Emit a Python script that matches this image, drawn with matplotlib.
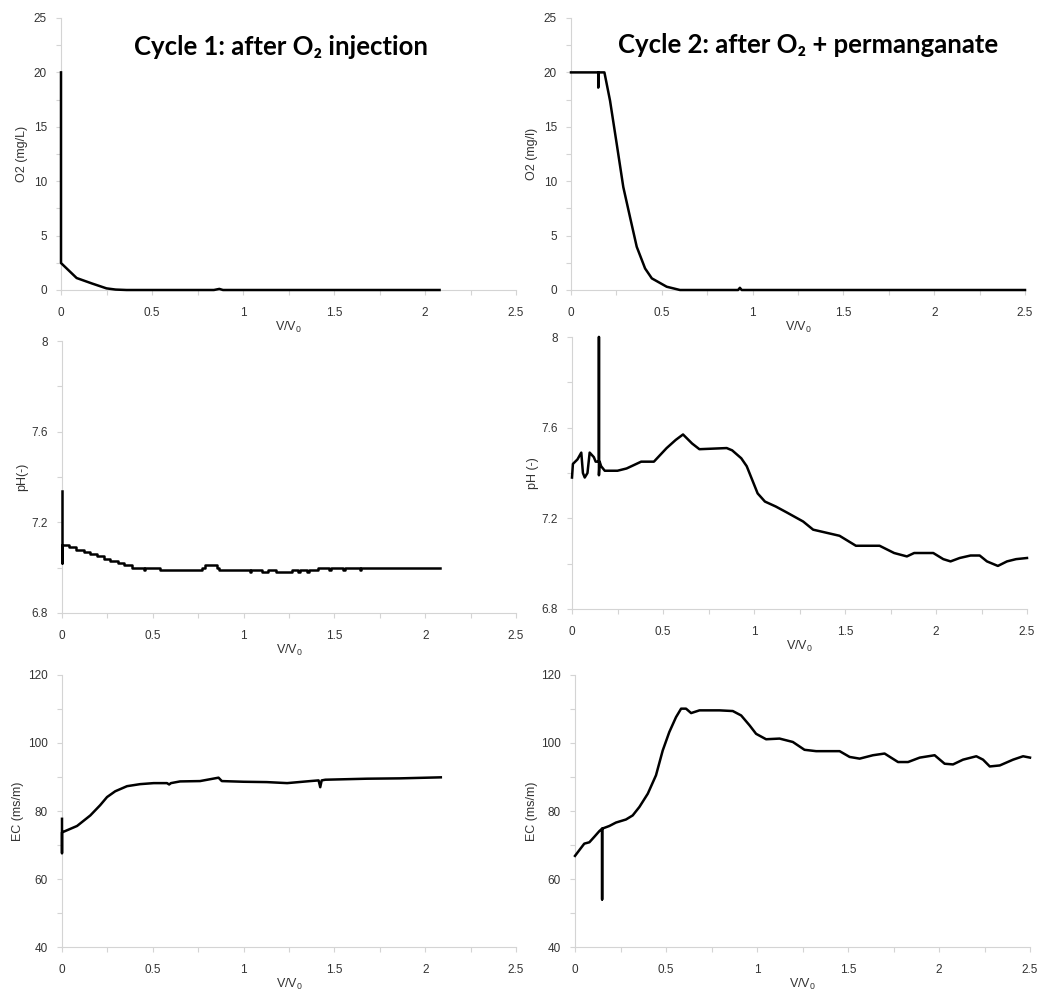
import matplotlib
matplotlib.use("Agg")
import matplotlib.pyplot as plt
from matplotlib.ticker import MultipleLocator

plt.rcParams['font.family'] = ['Liberation Sans', 'DejaVu Sans']
plt.rcParams['mathtext.fontset'] = 'custom'
plt.rcParams['mathtext.rm'] = 'Liberation Sans'
plt.rcParams['mathtext.it'] = 'Liberation Sans'

# Cycle 1 (after O2 injection)
o2_c1_x = [0, 0, 0.086, 0.17, 0.25, 0.30, 0.36, 0.84, 0.87, 0.89, 2.08]
o2_c1_y = [20, 2.48, 1.1, 0.6, 0.15, 0.04, 0.0, 0.0, 0.1, 0.0, 0.0]

ph_c1_x = [0, 0, 0, 0.037, 0.079, 0.119, 0.156, 0.192, 0.229, 0.266, 0.311, 0.339,
           0.385, 0.45, 0.455, 0.54, 0.77, 0.788, 0.852, 0.865, 1.035, 1.04, 1.1,
           1.136, 1.18, 1.264, 1.3, 1.31, 1.35, 1.36, 1.41, 1.47, 1.48, 1.55, 1.56,
           1.64, 1.645, 2.083]
ph_c1_y = [7.34, 7.02, 7.10, 7.09, 7.08, 7.07, 7.06, 7.05, 7.04, 7.03, 7.02, 7.01,
           7.00, 6.99, 7.00, 6.99, 7.00, 7.01, 7.00, 6.99, 6.98, 6.99, 6.98,
           6.99, 6.98, 6.99, 6.98, 6.99, 6.98, 6.99, 7.00, 6.99, 7.00, 6.99, 7.00,
           6.99, 7.00, 7.00]

ec_c1_x = [0, 0, 0, 0.083, 0.156, 0.21, 0.248, 0.293, 0.358, 0.43, 0.505, 0.578, 0.59,
           0.60, 0.65, 0.76, 0.862, 0.88, 1.0, 1.128, 1.24, 1.367, 1.413, 1.422, 1.43,
           1.45, 1.68, 1.86, 2.086]
ec_c1_y = [77.7, 67.6, 73.7, 75.6, 78.7, 81.7, 84.1, 85.8, 87.3, 87.9, 88.2, 88.2, 87.8,
           88.2, 88.7, 88.8, 89.8, 88.8, 88.6, 88.5, 88.2, 88.8, 89.0, 87.0, 89.0,
           89.2, 89.5, 89.6, 89.9]

# Cycle 2 (after O2 + permanganate)
o2_c2_x = [0, 0.15, 0.15, 0.152, 0.184, 0.215, 0.252, 0.288, 0.325, 0.362, 0.408,
           0.445, 0.527, 0.6, 0.92, 0.93, 0.94, 2.5]
o2_c2_y = [20, 20, 18.6, 20, 20, 17.4, 13.4, 9.46, 6.7, 3.97, 1.98,
           1.07, 0.3, 0.0, 0.0, 0.2, 0.0, 0.0]

ph_c2_x = [0, 0.005, 0.03, 0.051, 0.06, 0.07, 0.085, 0.097, 0.12, 0.13, 0.148, 0.148,
           0.148, 0.152, 0.16, 0.18, 0.25, 0.3, 0.38, 0.45, 0.52, 0.57, 0.61, 0.66,
           0.7, 0.85, 0.88, 0.93, 0.96, 0.99, 1.02, 1.06, 1.12, 1.18, 1.27, 1.325,
           1.47, 1.56, 1.69, 1.77, 1.84, 1.88, 1.985, 2.04, 2.08, 2.13, 2.19, 2.24,
           2.28, 2.34, 2.39, 2.44, 2.5]
ph_c2_y = [7.38, 7.44, 7.46, 7.49, 7.40, 7.38, 7.40, 7.49, 7.47, 7.45, 7.45, 8.0,
           7.39, 7.45, 7.43, 7.41, 7.41, 7.42, 7.45, 7.45, 7.51, 7.546, 7.57, 7.53,
           7.505, 7.51, 7.50, 7.465, 7.43, 7.37, 7.31, 7.274, 7.252, 7.226, 7.186, 7.15,
           7.123, 7.079, 7.079, 7.047, 7.032, 7.047, 7.047, 7.02, 7.01, 7.025, 7.036, 7.036,
           7.01, 6.99, 7.01, 7.02, 7.025]

ec_c2_x = [0, 0.024, 0.051, 0.079, 0.106, 0.134, 0.149, 0.149, 0.149, 0.189, 0.225,
           0.28, 0.317, 0.354, 0.4, 0.445, 0.482, 0.518, 0.555, 0.583, 0.61, 0.638,
           0.684, 0.794, 0.867, 0.913, 0.959, 0.995, 1.05, 1.124, 1.197, 1.261, 1.325,
           1.454, 1.509, 1.564, 1.637, 1.701, 1.775, 1.83, 1.894, 1.976, 2.031, 2.077,
           2.132, 2.205, 2.242, 2.279, 2.334, 2.407, 2.462, 2.5]
ec_c2_y = [66.8, 68.5, 70.4, 70.8, 72.4, 74.1, 74.8, 54.0, 74.8, 75.6, 76.6,
           77.5, 78.7, 81.2, 85.1, 90.5, 97.8, 103.2, 107.6, 110.1, 110.1, 108.8,
           109.6, 109.6, 109.4, 108.1, 105.2, 102.7, 101.1, 101.3, 100.3, 98.0, 97.6,
           97.6, 95.9, 95.4, 96.4, 96.9, 94.4, 94.4, 95.7, 96.4, 93.9, 93.7,
           95.1, 96.1, 95.1, 93.1, 93.4, 95.1, 96.1, 95.7]

W, H = 1042, 994
fig = plt.figure(figsize=(W / 100, H / 100), dpi=100)


def px_axes(left, right, top, bottom):
    return fig.add_axes([left / W, 1 - bottom / H, (right - left) / W, (bottom - top) / H])


def style(ax, ylim, ymaj, ymin, ylabel, ylab_x):
    ax.set_xlim(0, 2.5)
    ax.set_ylim(*ylim)
    ax.xaxis.set_major_locator(MultipleLocator(0.5))
    ax.xaxis.set_minor_locator(MultipleLocator(0.25))
    ax.yaxis.set_major_locator(MultipleLocator(ymaj))
    ax.yaxis.set_minor_locator(MultipleLocator(ymin))
    ax.xaxis.set_major_formatter(plt.FuncFormatter(lambda v, p: f"{v:g}"))
    ax.yaxis.set_major_formatter(plt.FuncFormatter(lambda v, p: f"{v:g}"))
    for s in ['top', 'right']:
        ax.spines[s].set_visible(False)
    for s in ['left', 'bottom']:
        ax.spines[s].set_color('#d4d4d4')
        ax.spines[s].set_linewidth(0.8)
    ax.tick_params(which='both', color='#d4d4d4', width=0.8, length=3.6,
                   labelcolor='#333333', labelsize=8.5)
    ax.tick_params(axis='x', which='major', pad=8.5)
    ax.tick_params(axis='y', which='major', pad=6.5)
    ax.set_xlabel('V/V$_0$', fontsize=9, color='#333333', va='top')
    ax.xaxis.set_label_coords(0.5, -0.11)
    ax.set_ylabel(ylabel, fontsize=9, color='#333333')
    ax.yaxis.set_label_coords(ylab_x, 0.5)


lw = 1.8

ax = px_axes(61, 516, 18, 290)
ax.plot(o2_c1_x, o2_c1_y, color='black', lw=lw, clip_on=False, zorder=3)
style(ax, (0, 25), 5, 2.5, 'O2 (mg/L)', -0.073)

ax = px_axes(571, 1025, 18, 290)
ax.plot(o2_c2_x, o2_c2_y, color='black', lw=lw, clip_on=False, zorder=3)
style(ax, (0, 25), 5, 2.5, 'O2 (mg/l)', -0.073)

ax = px_axes(62, 516, 341, 613)
ax.plot(ph_c1_x, ph_c1_y, color='black', lw=lw, drawstyle='steps-post', clip_on=False, zorder=3)
style(ax, (6.8, 8), 0.4, 0.2, 'pH(-)', -0.075)

ax = px_axes(572, 1027, 337, 609)
ax.plot(ph_c2_x, ph_c2_y, color='black', lw=lw, clip_on=False, zorder=3)
style(ax, (6.8, 8), 0.4, 0.2, 'pH (-)', -0.073)

ax = px_axes(62, 516, 675, 947)
ax.plot(ec_c1_x, ec_c1_y, color='black', lw=lw, clip_on=False, zorder=3)
style(ax, (40, 120), 20, 10, 'EC (ms/m)', -0.084)

ax = px_axes(575, 1030, 675, 947)
ax.plot(ec_c2_x, ec_c2_y, color='black', lw=lw, clip_on=False, zorder=3)
style(ax, (40, 120), 20, 10, 'EC (ms/m)', -0.081)

fig.text(281 / W, 1 - 47 / H, 'Cycle 1: after O₂ injection', ha='center', va='center',
         fontsize=18.5, fontweight='bold', family=['Lato', 'DejaVu Sans'])
fig.text(808 / W, 1 - 45 / H, 'Cycle 2: after O₂ + permanganate', ha='center', va='center',
         fontsize=18.5, fontweight='bold', family=['Lato', 'DejaVu Sans'])

fig.savefig('out.png', dpi=100, facecolor='white')
